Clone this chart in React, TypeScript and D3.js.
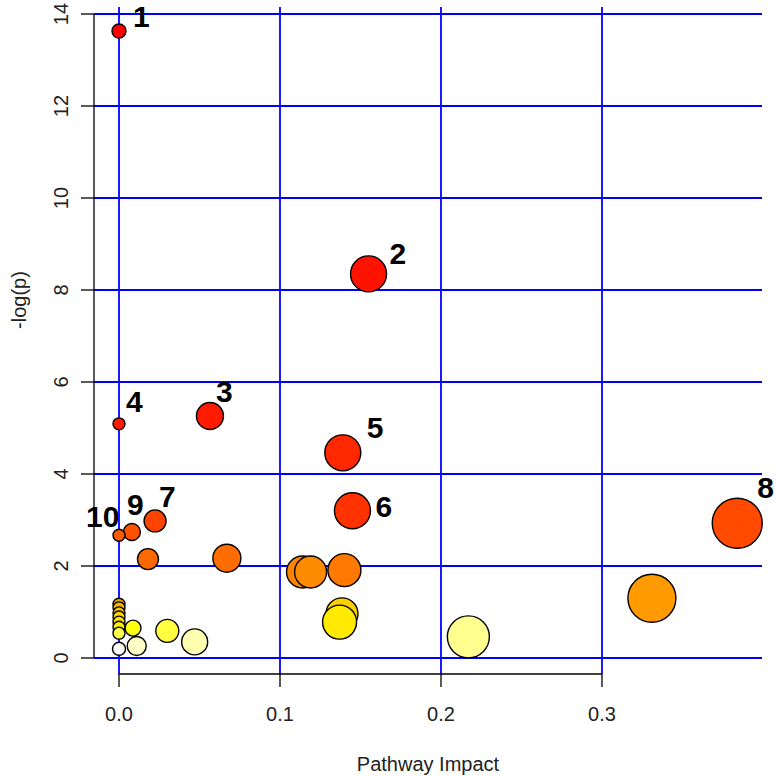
import * as d3 from "d3";

// pathway impact (x) and -log(p) (y), one entry per pathway
const impact = [
  0.384, 0.331, 0.155, 0.139, 0.145, 0.0565, 0.0, 0.0224, 0.008, 0.0, 0.067,
  0.018, 0.140, 0.114, 0.119, 0.0, 0.0, 0.0, 0.0, 0.0, 0.0, 0.0, 0.1385,
  0.137, 0.217, 0.047, 0.030, 0.0087, 0.011, 0.0, 0.0,
];
const logp = [
  2.93, 1.30, 8.35, 4.46, 3.2, 5.26, 5.09, 2.98, 2.74, 2.67, 2.17, 2.15, 1.91,
  1.87, 1.87, 1.17, 1.09, 0.98, 0.89, 0.78, 0.67, 0.54, 0.96, 0.78, 0.46,
  0.35, 0.59, 0.65, 0.26, 0.2, 13.63,
];
const radius = [
  25, 24, 18, 18, 18, 13.5, 6, 11, 8.5, 6, 14, 10.5, 16.5, 16, 16, 6, 6, 6, 6,
  6, 6, 6, 16, 17, 21, 13, 11.5, 8, 9.5, 6.5, 7,
];
const fills = [
  "#ff4a00", "#ff9a00", "#ff1200", "#ff2800", "#ff3200", "#ff1a00", "#ff1a00",
  "#ff4400", "#ff5200", "#ff5c00", "#ff6c00", "#fa6a00", "#ff7800", "#fb8400",
  "#ff8c00", "#f2a400", "#f6b600", "#f9c600", "#fcd600", "#fee400", "#fff000",
  "#ffff50", "#ffd000", "#ffea00", "#ffff90", "#ffffb0", "#ffff40", "#ffff10",
  "#ffffc8", "#ffffff", "#ff0000",
];

// numbered labels: index into the point arrays, plus text offset
const labelText = ["1", "2", "3", "4", "5", "6", "7", "8", "9", "10"];
const labelPoint = [30, 2, 5, 6, 3, 4, 7, 0, 8, 9];
const labelDx = [14, 21, 6, 7, 24, 23, 4, 20, -5, -33];
const labelDy = [-4, -10, -14, -12, -15, 6, -14, -25, -17, -8];

const xTicks = [0, 0.1, 0.2, 0.3];
const yTicks = [0, 2, 4, 6, 8, 10, 12, 14];

const W = 777;
const H = 777;
const left = 94;
const right = 762;
const top = 7;
const bottom = 674;

export default function App() {
  const x = d3.scaleLinear().domain([0, 0.3]).range([119, 602]);
  const y = d3.scaleLinear().domain([0, 14]).range([658, 14]);
  const font = "'Liberation Sans', Arial, sans-serif";

  const order = d3.range(impact.length);

  return (
    <svg
      width={W}
      height={H}
      style={{ position: "absolute", left: 0, top: 0, background: "#fff" }}
      fontFamily={font}
    >
      {/* grid */}
      <g stroke="#0000ff" strokeWidth={1.8}>
        {yTicks.map((t) => (
          <line key={"gy" + t} x1={left} x2={right} y1={y(t)} y2={y(t)} />
        ))}
        {xTicks.map((t) => (
          <line key={"gx" + t} x1={x(t)} x2={x(t)} y1={top} y2={bottom} />
        ))}
      </g>

      {/* axes */}
      <g stroke="#000" strokeWidth={1.3}>
        <line x1={left} x2={left} y1={y(0)} y2={y(14)} />
        {yTicks.map((t) => (
          <line key={"ty" + t} x1={left - 13} x2={left} y1={y(t)} y2={y(t)} />
        ))}
        <line x1={x(0)} x2={x(0.3)} y1={bottom} y2={bottom} />
        {xTicks.map((t) => (
          <line key={"tx" + t} x1={x(t)} x2={x(t)} y1={bottom} y2={bottom + 13} />
        ))}
      </g>
      {yTicks.map((t) => (
        <text
          key={"ly" + t}
          transform={`translate(68,${y(t)}) rotate(-90)`}
          textAnchor="middle"
          fontSize={20}
          fill="#222"
        >
          {t}
        </text>
      ))}
      {xTicks.map((t) => (
        <text
          key={"lx" + t}
          x={x(t)}
          y={721}
          textAnchor="middle"
          fontSize={20}
          fill="#222"
        >
          {d3.format(".1f")(t)}
        </text>
      ))}
      <text x={(left + right) / 2} y={771} textAnchor="middle" fontSize={20} fill="#222">
        Pathway Impact
      </text>
      <text
        transform={`translate(26,300) rotate(-90)`}
        textAnchor="middle"
        fontSize={20}
        fill="#222"
      >
        -log(p)
      </text>

      {/* points */}
      <g stroke="#000" strokeWidth={1.4}>
        {order.map((i) => (
          <circle
            key={"p" + i}
            cx={x(impact[i])}
            cy={y(logp[i])}
            r={radius[i]}
            fill={fills[i]}
          />
        ))}
      </g>

      {/* numbered labels */}
      {labelText.map((t, k) => {
        const i = labelPoint[k];
        return (
          <text
            key={"n" + t}
            x={x(impact[i]) + labelDx[k]}
            y={y(logp[i]) + labelDy[k]}
            fontSize={30}
            fontWeight="bold"
            fill="#000"
          >
            {t}
          </text>
        );
      })}
    </svg>
  );
}
